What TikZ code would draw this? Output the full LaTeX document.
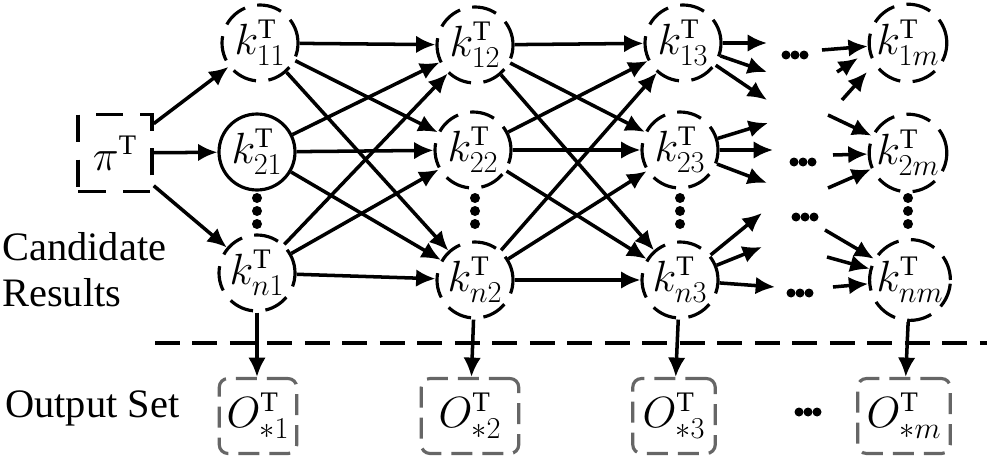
\documentclass[tikz,border=0pt]{standalone}
\usepackage{fontspec}
\setmainfont{Liberation Serif}
\usetikzlibrary{arrows.meta}
\begin{document}
\begin{tikzpicture}[x=0.02cm,y=-0.02cm,
  kn/.style={circle,draw,line width=1.8pt,minimum size=1.52cm,inner sep=0pt,font=\fontsize{23}{25}\selectfont},
  dn/.style={kn,dash pattern=on 0.5cm off 0.25cm},
  obox/.style={draw=black!60,line width=1.8pt,rounded corners=5pt,dash pattern=on 0.42cm off 0.2cm,minimum width=1.55cm,minimum height=1.5cm,inner sep=0pt,font=\fontsize{23}{25}\selectfont},
  ar/.style={-{Latex[length=11pt,width=10pt]},line width=2pt},
  dot/.style={circle,fill,inner sep=0pt,minimum size=0.2cm},
  lab/.style={font=\fontsize{23}{26}\selectfont,align=left}]
\useasboundingbox (0,0) rectangle (987,463);
% nodes
\node[draw,line width=2pt,dash pattern=on 0.55cm off 0.35cm,minimum width=1.48cm,minimum height=1.54cm,font=\fontsize{23}{25}\selectfont] (pi) at (115,153) {$\pi^{\mathrm{T}}$};
\node[dn] (a1) at (260,43) {$k^{\mathrm{T}}_{11}$};
\node[kn] (a2) at (257,152) {$k^{\mathrm{T}}_{21}$};
\node[dn] (a3) at (257,273) {$k^{\mathrm{T}}_{n1}$};
\node[dn] (b1) at (475,45) {$k^{\mathrm{T}}_{12}$};
\node[dn] (b2) at (473,150) {$k^{\mathrm{T}}_{22}$};
\node[dn] (b3) at (475,280) {$k^{\mathrm{T}}_{n2}$};
\node[dn] (c1) at (683,43) {$k^{\mathrm{T}}_{13}$};
\node[dn] (c2) at (680,150) {$k^{\mathrm{T}}_{23}$};
\node[dn] (c3) at (680,280) {$k^{\mathrm{T}}_{n3}$};
\node[dn] (d1) at (908,43) {$k^{\mathrm{T}}_{1m}$};
\node[dn] (d2) at (908,153) {$k^{\mathrm{T}}_{2m}$};
\node[dn] (d3) at (910,280) {$k^{\mathrm{T}}_{nm}$};
% labels
\node[lab,anchor=west,inner sep=0pt] (cr) at (2,270) {Candidate\\Results};
\node[lab,anchor=west,inner sep=0pt] (os) at (5,408) {Output Set};
% outputs
\node[obox] (o1) at (258,416) {$O^{\mathrm{T}}_{*1}$};
\node[obox,minimum width=1.95cm] (o2) at (470,416) {$O^{\mathrm{T}}_{*2}$};
\node[obox,minimum width=1.65cm] (o3) at (674,416) {$O^{\mathrm{T}}_{*3}$};
\node[obox,minimum width=1.85cm] (o4) at (904,416) {$O^{\mathrm{T}}_{*m}$};
% dashed separator
\coordinate (s1) at (155,343); \coordinate (s2) at (987,343);
\draw[line width=2pt,dash pattern=on 0.5cm off 0.25cm] (s1) -- (s2);
% pi arrows
\draw[ar] (pi) -- (a1); \draw[ar] (pi) -- (a2); \draw[ar] (pi) -- (a3);
% full connections
\foreach \s in {a1,a2,a3}{\foreach \t in {b1,b2,b3}{\draw[ar] (\s) -- (\t);}}
\foreach \s in {b1,b2,b3}{\foreach \t in {c1,c2,c3}{\draw[ar] (\s) -- (\t);}}
% vertical dots
\foreach \c/\x in {p1/257,p2/475,p3/680,p4/908}{
  \node[dot] (\c a) at (\x,198) {}; \node[dot] (\c b) at (\x,211) {}; \node[dot] (\c c) at (\x,224) {};}
% horizontal dots
\foreach \c/\x/\y in {h1/795/55,h2/803/162,h3/805/217,h4/800/293,h5/808/412}{
  \node[dot,minimum size=0.18cm] (\c a) at (\x-9,\y) {}; \node[dot,minimum size=0.18cm] (\c b) at (\x,\y) {}; \node[dot,minimum size=0.18cm] (\c c) at (\x+9,\y) {};}
% stubs out of column 3
\coordinate (e1) at (767,43); \coordinate (e2) at (767,72); \coordinate (e3) at (767,100);
\coordinate (e4) at (768,123); \coordinate (e5) at (773,150); \coordinate (e6) at (767,183);
\coordinate (e7) at (762,213); \coordinate (e8) at (762,247); \coordinate (e9) at (775,287);
\draw[ar] (c1) -- (e1); \draw[ar] (c1) -- (e2); \draw[ar] (c1) -- (e3);
\draw[ar] (c2) -- (e4); \draw[ar] (c2) -- (e5); \draw[ar] (c2) -- (e6);
\draw[ar] (c3) -- (e7); \draw[ar] (c3) -- (e8); \draw[ar] (c3) -- (e9);
% stubs into column m
\coordinate (f1) at (822,50); \coordinate (f2) at (837,72); \coordinate (g2) at (858,58);
\coordinate (f3) at (842,100); \coordinate (g3) at (867,72);
\coordinate (f4) at (828,115); \coordinate (f5) at (833,155); \coordinate (f6) at (828,188);
\coordinate (f7) at (825,230); \coordinate (f8) at (827,257); \coordinate (f9) at (833,287);
\draw[ar] (f1) -- (d1); \draw[ar] (f2) -- (g2); \draw[ar] (f3) -- (g3);
\draw[ar] (f4) -- (d2); \draw[ar] (f5) -- (d2); \draw[ar] (f6) -- (d2);
\draw[ar] (f7) -- (d3); \draw[ar] (f8) -- (d3); \draw[ar] (f9) -- (d3);
% to outputs
\draw[ar] (a3) -- (o1.north -| a3); \draw[ar] (b3) -- (o2);
\draw[ar] (c3) -- (o3); \draw[ar] (d3) -- (o4);
\end{tikzpicture}
\end{document}
